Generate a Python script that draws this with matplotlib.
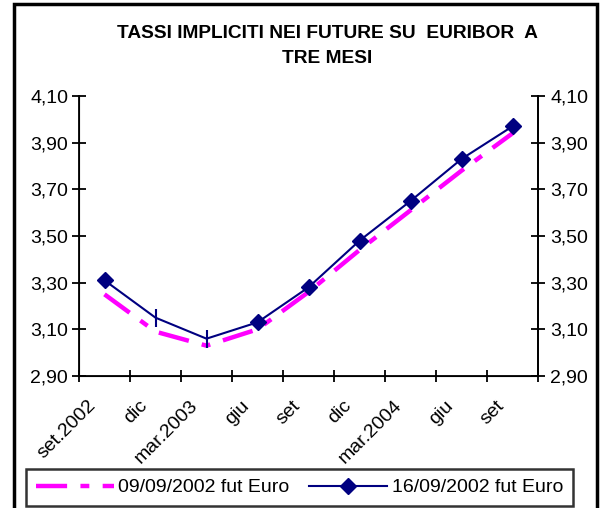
import matplotlib
matplotlib.use('Agg')
import matplotlib.pyplot as plt
from matplotlib.patches import Rectangle
from matplotlib.lines import Line2D

plt.rcParams['font.family'] = ['Liberation Sans', 'DejaVu Sans']

# categorie (scadenze trimestrali dei future)
months = ['set.2002', 'dic', 'mar.2003', 'giu', 'set', 'dic', 'mar.2004', 'giu', 'set']
# tassi impliciti
fut_0909 = [3.25, 3.09, 3.03, 3.10, 3.26, 3.44, 3.61, 3.78, 3.94]
fut_1609 = [3.31, 3.15, 3.06, 3.13, 3.28, 3.48, 3.65, 3.83, 3.97]
yticks = [2.90, 3.10, 3.30, 3.50, 3.70, 3.90, 4.10]

W, H = 602, 508
fig = plt.figure(figsize=(W / 100, H / 100), dpi=100)

# cornice esterna
fig.patches.append(Rectangle((14 / W, -0.05), 583 / W, 1.05 - 4 / H, transform=fig.transFigure,
                             fill=False, lw=2.5, ec='black'))

ax = fig.add_axes([79 / W, 1 - 376 / H, 459 / W, 280 / H])
x = list(range(len(months)))

ax.plot(x, fut_0909, color='#FF00FF', lw=3.2, dashes=(7, 3, 2, 3), zorder=2)
ax.plot(x, fut_1609, color='#000080', lw=1.5, zorder=3)
diam = [i for i in x if i not in (1, 2)]
ax.plot([x[i] for i in diam], [fut_1609[i] for i in diam], ls='none', marker='D',
        ms=8, color='#000080', zorder=4)
ax.plot([x[1], x[2]], [fut_1609[1], fut_1609[2]], ls='none', marker='|',
        ms=13, mew=1.5, color='#000080', zorder=4)

ax.set_xlim(-0.5, len(months) - 0.5)
ax.set_ylim(2.90, 4.10)
ax.set_yticks(yticks)
ax.set_yticklabels([f'{v:.2f}'.replace('.', ',') for v in yticks])
ax.set_xticks([i - 0.5 for i in range(len(months) + 1)])
ax.set_xticklabels([])
# etichette ruotate come in Excel
for i, m in zip(x, months):
    ax.annotate(m, xy=(i, 0), xycoords=('data', 'axes fraction'), xytext=(-8, -19.5),
                textcoords='offset points', rotation=45, ha='right', va='center',
                rotation_mode='anchor', fontsize=14, annotation_clip=False)
ax.tick_params(axis='x', which='major', direction='inout', length=8, width=1.3)
ax.tick_params(axis='y', direction='inout', length=9.5, width=1.3, labelsize=14, pad=3)
ax.spines['top'].set_visible(False)
for s in ['left', 'right', 'bottom']:
    ax.spines[s].set_linewidth(1.3)

ax2 = ax.twinx()
ax2.set_ylim(2.90, 4.10)
ax2.set_yticks(yticks)
ax2.set_yticklabels([f'{v:.2f}'.replace('.', ',') for v in yticks])
ax2.tick_params(axis='y', direction='inout', length=9.5, width=1.3, labelsize=14, pad=4)
ax2.spines['top'].set_visible(False)
ax2.spines['right'].set_linewidth(1.3)

fig.text(327 / W, 1 - 46 / H, 'TASSI IMPLICITI NEI FUTURE SU  EURIBOR  A\nTRE MESI',
         ha='center', va='center', fontsize=13.8, fontweight='bold', linespacing=1.55)

handles = [Line2D([], [], color='#FF00FF', lw=3.2, dashes=(7, 3, 2, 3)),
           Line2D([], [], color='#000080', lw=1.5, marker='D', ms=8)]
leg = fig.legend(handles, ['09/09/2002 fut Euro', '16/09/2002 fut Euro'], ncol=2,
                 loc='center', bbox_to_anchor=(299.5 / W, 1 - 487.5 / H), fontsize=14,
                 frameon=True, fancybox=False, edgecolor='black', handlelength=4,
                 handletextpad=0.25, columnspacing=1.0, borderpad=0.5)
leg.get_frame().set_linewidth(1.8)

fig.savefig('out.png', dpi=100)
